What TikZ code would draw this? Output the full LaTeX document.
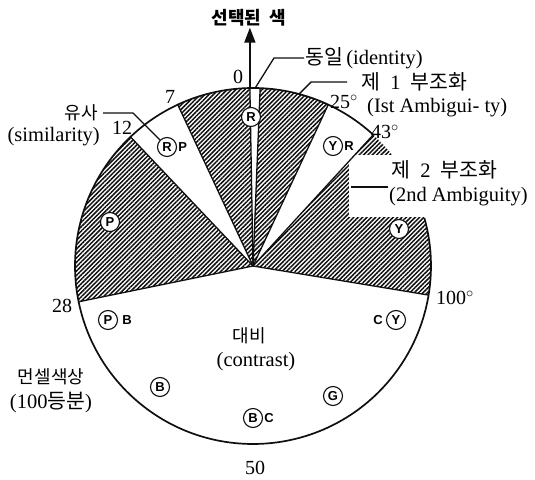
\documentclass[tikz,border=0pt]{standalone}
\usepackage{fontspec}
\setmainfont{Liberation Serif}
\setsansfont{Liberation Sans}
\newfontfamily\kr{Noto Sans CJK KR}
\usepackage{xcolor}
\usepackage{tikz}
\usetikzlibrary{arrows.meta,patterns.meta,positioning,calc}
\definecolor{hueink}{RGB}{15,15,15}
\tikzset{
  rim/.style={draw=hueink, line width=1.7pt},
  cut/.style={draw=hueink, line width=1.3pt},
  hatchsec/.style={
    pattern={Lines[angle=45,distance=3.1pt,line width=1.5pt]}, pattern color=hueink
  },
  huec/.style={
    circle, draw=hueink, fill=white, line width=1.1pt, inner sep=0pt,
    minimum size=19pt, font=\sffamily\bfseries\fontsize{13}{13}\selectfont
  },
  huel/.style={inner sep=0pt, font=\sffamily\bfseries\fontsize{13}{13}\selectfont},
  numl/.style={inner sep=1pt, font=\fontsize{20}{22}\selectfont},
  krl/.style={inner sep=1pt, font=\kr\fontsize{18}{21}\selectfont},
  enl/.style={inner sep=1pt, font=\fontsize{20.5}{23}\selectfont},
  lead/.style={draw=hueink, line width=1.3pt},
  selarr/.style={-{Triangle[length=15pt,width=11pt]}, draw=hueink, line width=1.7pt}
}

\begin{document}
\begin{tikzpicture}[x=1pt,y=1pt]
  \useasboundingbox (0,0) rectangle (535,479);
  \coordinate (C) at (253,213);
  \foreach \a/\b in {91/115, 133.5/191.6, -9.4/47.5, 65/87.7}
    \fill[hatchsec] (C) -- ++(\a:178) arc[start angle=\a, end angle=\b, radius=178] -- cycle;
  \fill[white] (349,262) rectangle (440,324);
  \foreach \a in {87.7, 91, 115, 133.5, 191.6, -9.4, 47.5, 65}
    \draw[cut] (C) -- ++(\a:178);
  \draw[rim] ($(C)+(47.5:178)$) arc[start angle=47.5, end angle=375.7, radius=178];
  \coordinate (s91) at ($(C)+(91:178)$);
  \coordinate (idfoot) at ($(C)+(89.3:178)$);
  \coordinate (a1foot) at ($(C)+(75:178)$);
  \coordinate (w2) at (351,292);

  \node[krl, font=\kr\bfseries\fontsize{18}{21}\selectfont] (sel) at (249,461) {선택된\ \ 색};
  \draw[selarr] (s91) -- (s91 |- sel.south);

  \node[enl, anchor=west] (id) at (304,421) {{\kr 동일}\,(identity)};
  \node[enl, anchor=west] (amb1) at (360,397) {{\kr 제}\ \ 1\ \ {\kr 부조화}};
  \node[enl, anchor=west] (amb1en) at (366,371) {(Ist Ambigui- ty)};
  \node[enl, anchor=west] (amb2) at (390,309) {{\kr 제}\ \ 2\ \ {\kr 부조화}};
  \node[enl, anchor=west] (amb2en) at (388,282) {(2nd Ambiguity)};
  \node[krl, anchor=east] (sim) at (99,366) {유사};
  \node[enl, anchor=east] (simen) at (101,342) {(similarity)};
  \node[krl] (contr) at (249,143) {대비};
  \node[enl] (contren) at (256,117) {(contrast)};
  \node[krl] (munsell) at (51,102) {먼셀색상};
  \node[enl] (munsellen) at (51,76) {(100{\kr 등분})};

  \node[numl] (n0) at (238,402) {0};
  \node[numl] (n7) at (170,382) {7};
  \node[numl] (n12) at (122,351) {12};
  \node[numl] (n28) at (62,173) {28};
  \node[numl] (n50) at (255,11) {50};
  \node[numl] (n100) at (455,181) {100$^{\circ}$};
  \node[numl] (n43) at (385,347) {43$^{\circ}$};
  \node[numl] (n25) at (344,377) {25$^{\circ}$};

  \node[huec] (r) at (251,362) {R};
  \node[huec] (rp) at (167,332) {R};
  \node[huel, right=1pt of rp] (rpb) {P};
  \node[huec] (yr) at (333,333) {Y};
  \node[huel, right=1pt of yr] (yrb) {R};
  \node[huec] (y) at (399,250) {Y};
  \node[huec] (p) at (110,257) {P};
  \node[huec] (pb) at (108,159) {P};
  \node[huel, right=4pt of pb] (pbb) {B};
  \node[huec] (b) at (160,92) {B};
  \node[huec] (bc) at (253,61) {B};
  \node[huel, right=1pt of bc] (bcb) {C};
  \node[huec] (g) at (333,83) {G};
  \node[huec] (cy) at (396,159) {Y};
  \node[huel, left=3pt of cy] (cya) {C};

  \draw[lead] (idfoot) -- ($(id.west)+(-30,0)$) -- (id.west);
  \draw[lead] (a1foot) -- ++(12,12) -- ++(36,0);
  \draw[lead] (w2) -- (w2 -| amb2en.west);
  \draw[lead, shorten <=4pt] (sim.east) -- ++(34,0) -- (rp.north west);
\end{tikzpicture}
\end{document}
